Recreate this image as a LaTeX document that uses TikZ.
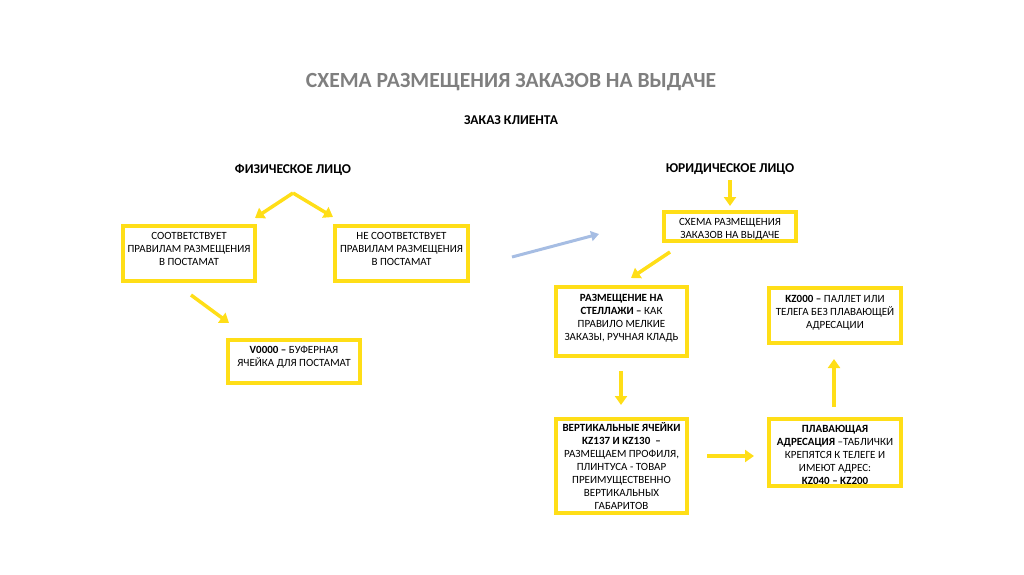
\documentclass[tikz,border=0pt]{standalone}
\usepackage{fontspec}
\setmainfont{Carlito}
\usetikzlibrary{arrows.meta}
\definecolor{ylw}{HTML}{FFDE17}
\definecolor{ttlgray}{HTML}{7F7F7F}
\definecolor{lblue}{HTML}{A6BDE3}
\tikzset{
  ybox/.style={draw=ylw, line width=4pt, fill=white, inner sep=0pt},
  btxt/.style={anchor=north, align=center, font=\fontsize{11}{13}\selectfont, inner sep=0pt},
  head/.style={font=\bfseries\fontsize{13.5}{15}\selectfont, inner sep=0pt},
  yarrow/.style={draw=ylw, line width=3.5pt, -{Triangle[length=9pt,width=12pt]}},
  barrow/.style={draw=lblue, line width=3pt, -{Triangle[length=8pt,width=10pt]}},
}
\begin{document}
\begin{tikzpicture}[x=1pt,y=-1pt]
\useasboundingbox (0,0) rectangle (1024,574);
% titles
\node[font=\bfseries\fontsize{21.6}{24}\selectfont, text=ttlgray, inner sep=0pt] (title) at (511,82) {СХЕМА РАЗМЕЩЕНИЯ ЗАКАЗОВ НА ВЫДАЧЕ};
\node[head] (client) at (511,120) {ЗАКАЗ КЛИЕНТА};
\node[head] (phys) at (293,170) {ФИЗИЧЕСКОЕ ЛИЦО};
\node[head] (jur) at (730,169) {ЮРИДИЧЕСКОЕ ЛИЦО};

% left boxes
\node[ybox, minimum width=132pt, minimum height=55pt] (b1) at (189,253.5) {};
\node[btxt] (t1) at ([yshift=-8pt]b1.north) {СООТВЕТСТВУЕТ\\ПРАВИЛАМ РАЗМЕЩЕНИЯ\\В ПОСТАМАТ};
\node[ybox, minimum width=133pt, minimum height=55pt] (b2) at (401.5,253.5) {};
\node[btxt] (t2) at ([yshift=-8pt]b2.north) {НЕ СООТВЕТСТВУЕТ\\ПРАВИЛАМ РАЗМЕЩЕНИЯ\\В ПОСТАМАТ};
\node[ybox, minimum width=132pt, minimum height=43pt] (b3) at (294,361.5) {};
\node[btxt] (t3) at ([yshift=-8pt]b3.north) {\textbf{V0000 –} БУФЕРНАЯ\\ЯЧЕЙКА ДЛЯ ПОСТАМАТ};

% right boxes
\node[ybox, minimum width=132pt, minimum height=29pt] (b4) at (730,226.5) {};
\node[btxt] (t4) at ([yshift=-8pt]b4.north) {СХЕМА РАЗМЕЩЕНИЯ\\ЗАКАЗОВ НА ВЫДАЧЕ};
\node[ybox, minimum width=131pt, minimum height=69pt] (b5) at (621.5,321.5) {};
\node[btxt] (t5) at ([yshift=-9pt]b5.north) {\textbf{РАЗМЕЩЕНИЕ НА}\\\textbf{СТЕЛЛАЖИ –} КАК\\ПРАВИЛО МЕЛКИЕ\\ЗАКАЗЫ, РУЧНАЯ КЛАДЬ};
\node[ybox, minimum width=132pt, minimum height=55pt] (b6) at (835,315.5) {};
\node[btxt] (t6) at ([yshift=-9pt]b6.north) {\textbf{KZ000 –} ПАЛЛЕТ ИЛИ\\ТЕЛЕГА БЕЗ ПЛАВАЮЩЕЙ\\АДРЕСАЦИИ};
\node[ybox, minimum width=131pt, minimum height=94pt] (b7) at (621.5,466) {};
\node[btxt] (t7) at ([yshift=-5pt]b7.north) {\textbf{ВЕРТИКАЛЬНЫЕ ЯЧЕЙКИ}\\\textbf{KZ137 И KZ130 \ –}\\РАЗМЕЩАЕМ ПРОФИЛЯ,\\ПЛИНТУСА - ТОВАР\\ПРЕИМУЩЕСТВЕННО\\ВЕРТИКАЛЬНЫХ\\ГАБАРИТОВ};
\node[ybox, minimum width=132pt, minimum height=67pt] (b8) at (835,452.5) {};
\node[btxt] (t8) at ([yshift=-8pt]b8.north) {\textbf{ПЛАВАЮЩАЯ}\\\textbf{АДРЕСАЦИЯ} –ТАБЛИЧКИ\\КРЕПЯТСЯ К ТЕЛЕГЕ И\\ИМЕЮТ АДРЕС:\\\textbf{KZ040 – KZ200}};

% arrow coordinates
\coordinate (apex) at (293,193);
\coordinate (aL) at (255,218);
\coordinate (aR) at (333,217);
\coordinate (s1) at (191,295);
\coordinate (e1) at (229,323);
\coordinate (j1) at (730,180);
\coordinate (j2) at (730,206);
\coordinate (s2) at (670,252);
\coordinate (e2) at (631,278);
\coordinate (s3) at (621,371);
\coordinate (e3) at (621,405);
\coordinate (s4) at (707,456);
\coordinate (e4) at (754,456);
\coordinate (s5) at (834,407);
\coordinate (e5) at (834,359);
\coordinate (bs) at (512,257);
\coordinate (be) at (599,234);

\draw[yarrow] (apex) -- (aL);
\draw[yarrow] (apex) -- (aR);
\draw[yarrow] (s1) -- (e1);
\draw[yarrow] (j1) -- (j2);
\draw[yarrow] (s2) -- (e2);
\draw[yarrow] (s3) -- (e3);
\draw[yarrow] (s4) -- (e4);
\draw[yarrow] (s5) -- (e5);
\draw[barrow] (bs) -- (be);
\end{tikzpicture}
\end{document}
